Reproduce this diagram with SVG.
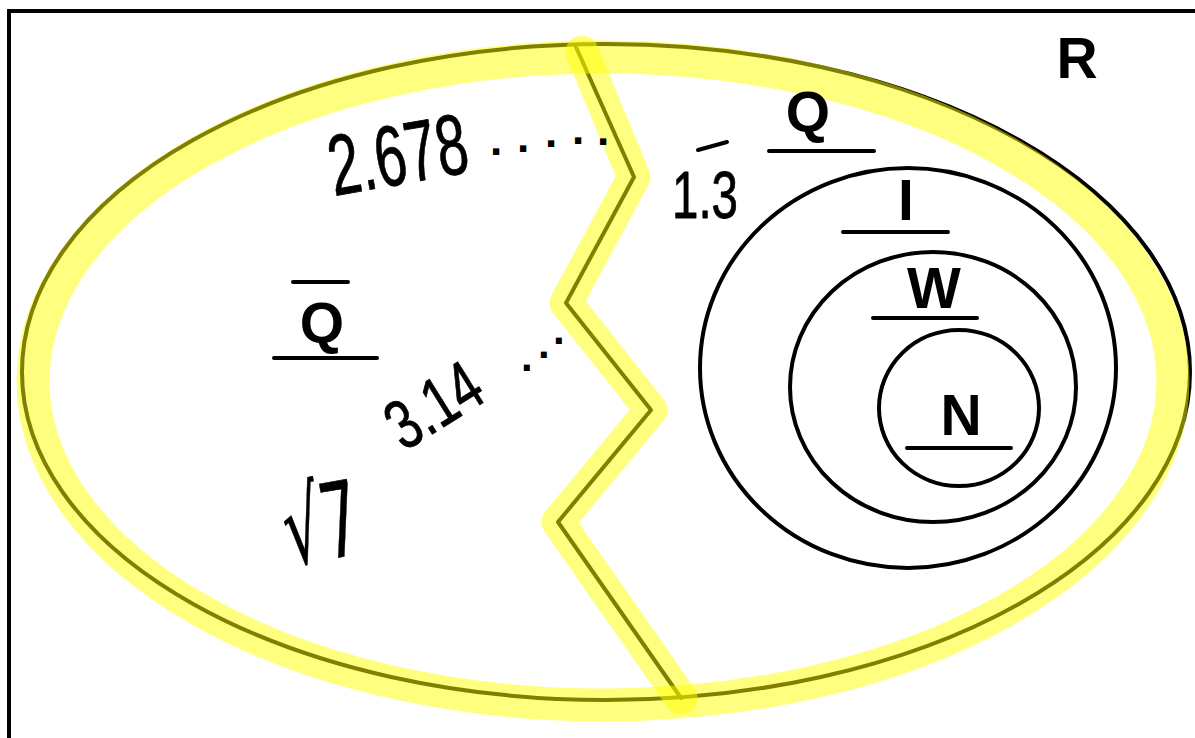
<svg xmlns="http://www.w3.org/2000/svg" width="1195" height="738" viewBox="0 0 1195 738">
<style>
.ink{fill:none;stroke:#000;stroke-width:4;stroke-linecap:round;stroke-linejoin:round}
.hl{fill:none;stroke:#ffff00;stroke-opacity:0.5;stroke-width:33;stroke-linecap:round;stroke-linejoin:round}
.lbl{font-family:"Liberation Sans",Arial,sans-serif;font-weight:bold;font-size:57px;fill:#000;text-anchor:middle}
.hand{font-family:"Liberation Sans",Arial,sans-serif;font-size:62px;fill:#000;stroke:#000;stroke-width:0.8;stroke-linejoin:round}
.dots{font-family:"Liberation Sans",Arial,sans-serif;font-weight:bold;fill:#000}
</style>
<rect width="1195" height="738" fill="#fff"/>
<g id="frame">
<path d="M9,740 V11 H1197" fill="none" stroke="#000" stroke-width="4"/>
<text class="lbl" x="1077" y="78">R</text>
</g>
<g id="connectors">
<ellipse class="ink" cx="606" cy="372" rx="584" ry="328"/>
<path class="ink" d="M576,47 L634,177 L566,303 L651,410 L558,522 L681,698"/>
</g>
<g id="highlight">
<ellipse class="hl" cx="603" cy="381" rx="570" ry="324"/>
<path class="hl" d="M582,52 L634,177 L566,303 L651,410 L558,522 L681,698"/>
</g>
<g id="circle-I">
<ellipse class="ink" cx="908" cy="368" rx="208" ry="200"/>
</g>
<g id="circle-W">
<ellipse class="ink" cx="933" cy="387" rx="143" ry="135"/>
</g>
<g id="circle-N">
<ellipse class="ink" cx="959" cy="408" rx="80" ry="78"/>
</g>
<g id="label-Q">
<text class="lbl" x="808" y="132">Q</text>
<line class="ink" x1="769" y1="151" x2="874" y2="151"/>
</g>
<g id="label-I">
<text class="lbl" x="906" y="220">I</text>
<line class="ink" x1="843" y1="232" x2="948" y2="232"/>
</g>
<g id="label-W">
<text class="lbl" x="934" y="308">W</text>
<line class="ink" x1="873" y1="318" x2="977" y2="318"/>
</g>
<g id="label-N">
<text class="lbl" x="961" y="435">N</text>
<line class="ink" x1="907" y1="448" x2="1011" y2="448"/>
</g>
<g id="label-Qbar">
<line class="ink" x1="293" y1="282" x2="348" y2="282"/>
<text class="lbl" x="322" y="343">Q</text>
<line class="ink" x1="274" y1="358" x2="377" y2="358"/>
</g>
<g id="irrational-numbers">
<text class="hand" transform="translate(334,196) rotate(-10)" style="font-size:86px" textLength="140" lengthAdjust="spacingAndGlyphs">2.678</text>
<text class="dots" x="490 517 545 572 597" y="155 152 147 144 145" style="font-size:44px">.....</text>
<text class="hand" transform="translate(404,452) rotate(-32)" style="font-size:70px" textLength="100" lengthAdjust="spacingAndGlyphs">3.14</text>
<text class="dots" x="521 538 553" y="371 358 344" style="font-size:42px">...</text>
<text class="hand" transform="translate(290,566) rotate(-10)" style="font-family:'DejaVu Sans',sans-serif;font-size:104px;stroke-width:0.6" textLength="76" lengthAdjust="spacingAndGlyphs">√7</text>
</g>
<g id="rational-number">
<text class="hand" x="672" y="218" style="font-size:66px" textLength="66" lengthAdjust="spacingAndGlyphs">1.3</text>
<line class="ink" x1="698" y1="150" x2="727" y2="142"/>
</g>
</svg>
